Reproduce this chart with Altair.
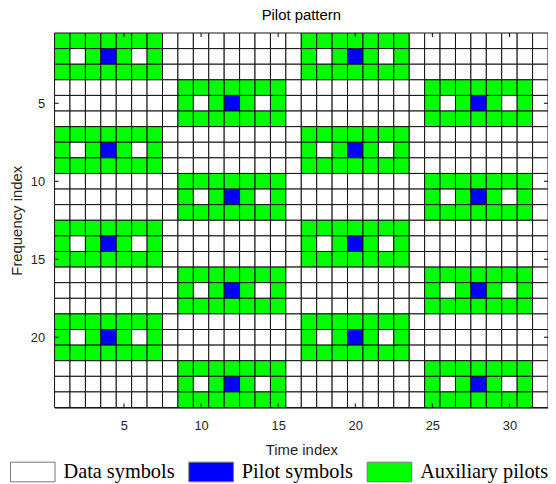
import altair as alt
import pandas as pd

# ---- data ----
n_time = 32
n_freq = 24
# pilot positions (time index, frequency index)
pilot_times_a = [4, 20]
pilot_freqs_a = [2, 8, 14, 20]
pilot_times_b = [12, 28]
pilot_freqs_b = [5, 11, 17, 23]
# auxiliary block around each pilot: 7 wide x 3 tall, data cells at +-2 in pilot row
aux_dt = [-3, -2, -1, 0, 1, 2, 3]
aux_df = [-1, 0, 1]
gap_dt = [-2, 2]

categories = ["Data symbols", "Pilot symbols", "Auxiliary pilots"]
colors = ["#FFFFFF", "#0000FF", "#00FF00"]
x_ticks = [5, 10, 15, 20, 25, 30]
y_ticks = [5, 10, 15, 20]

# ---- build cell table ----
kind = {(t, f): categories[0] for t in range(1, n_time + 1) for f in range(1, n_freq + 1)}
pilots = [(t, f) for t in pilot_times_a for f in pilot_freqs_a] + \
         [(t, f) for t in pilot_times_b for f in pilot_freqs_b]
for (pt, pf) in pilots:
    for dt in aux_dt:
        for df_ in aux_df:
            kind[(pt + dt, pf + df_)] = categories[2]
    for dt in gap_dt:
        kind[(pt + dt, pf)] = categories[0]
    kind[(pt, pf)] = categories[1]

cells = pd.DataFrame(
    [{"t": t, "f": f, "kind": k} for (t, f), k in kind.items()]
)

xticks_df = pd.DataFrame([{"t": t, "e": e} for t in x_ticks for e in [0.5, n_freq + 0.5]])
yticks_df = pd.DataFrame([{"f": f, "e": e} for f in y_ticks for e in [0.5, n_time + 0.5]])

xs = alt.Scale(domain=[0.5, n_time + 0.5], nice=False, zero=False)
ys = alt.Scale(domain=[0.5, n_freq + 0.5], nice=False, zero=False, reverse=True)

axis_font = "Liberation Sans"
xa = alt.Axis(
    values=x_ticks, ticks=False, domain=False, grid=False, labelPadding=12,
    title="Time index", titlePadding=10, labelFontSize=13, titleFontSize=15,
    labelFont=axis_font, titleFont=axis_font, labelColor="#262626",
    titleColor="#262626", titleFontWeight="normal")
ya = alt.Axis(
    values=y_ticks, ticks=False, domain=False, grid=False, labelPadding=10,
    title="Frequency index", titlePadding=6, labelFontSize=13, titleFontSize=15,
    labelFont=axis_font, titleFont=axis_font, labelColor="#262626",
    titleColor="#262626", titleFontWeight="normal")

rects = alt.Chart(cells).transform_calculate(
    x0="datum.t - 0.5", x1="datum.t + 0.5", y0="datum.f - 0.5", y1="datum.f + 0.5"
).mark_rect(stroke="#111111", strokeWidth=1).encode(
    x=alt.X("x0:Q", scale=xs, axis=xa),
    x2="x1:Q",
    y=alt.Y("y0:Q", scale=ys, axis=ya),
    y2="y1:Q",
    color=alt.Color("kind:N", scale=alt.Scale(domain=categories, range=colors),
                    legend=alt.Legend(
                        orient="none", legendX=-45, legendY=420, direction="horizontal",
                        columns=3, title=None, symbolType="M-1,-0.44H1V0.44H-1Z",
                        symbolSize=2025, symbolStrokeColor="#777777", symbolStrokeWidth=1,
                        symbolOpacity=1, labelFont="Liberation Serif", labelFontSize=20.5,
                        labelColor="black", labelOffset=8, columnPadding=11,
                        labelLimit=0, padding=0)),
)

xt = alt.Chart(xticks_df).mark_tick(orient="vertical", size=8, thickness=1,
                                    color="black", clip=True, opacity=1).encode(
    x=alt.X("t:Q", scale=xs, axis=xa),
    y=alt.Y("e:Q", scale=ys, axis=ya),
)
yt = alt.Chart(yticks_df).mark_tick(orient="horizontal", size=8, thickness=1,
                                    color="black", clip=True, opacity=1).encode(
    x=alt.X("e:Q", scale=xs, axis=xa),
    y=alt.Y("f:Q", scale=ys, axis=ya),
)

chart = alt.layer(rects, xt, yt).properties(
    width=498, height=378,
    title=alt.TitleParams("Pilot pattern", fontSize=15, font=axis_font, fontWeight="normal",
                          color="black", offset=10, anchor="middle"),
    padding={"left": 47, "top": 23, "right": 0, "bottom": 83},
    autosize=alt.AutoSizeParams(type="none"),
).configure_view(stroke="black", strokeWidth=1)

chart.save("out.html", embed_options={"renderer": "svg", "actions": False})
